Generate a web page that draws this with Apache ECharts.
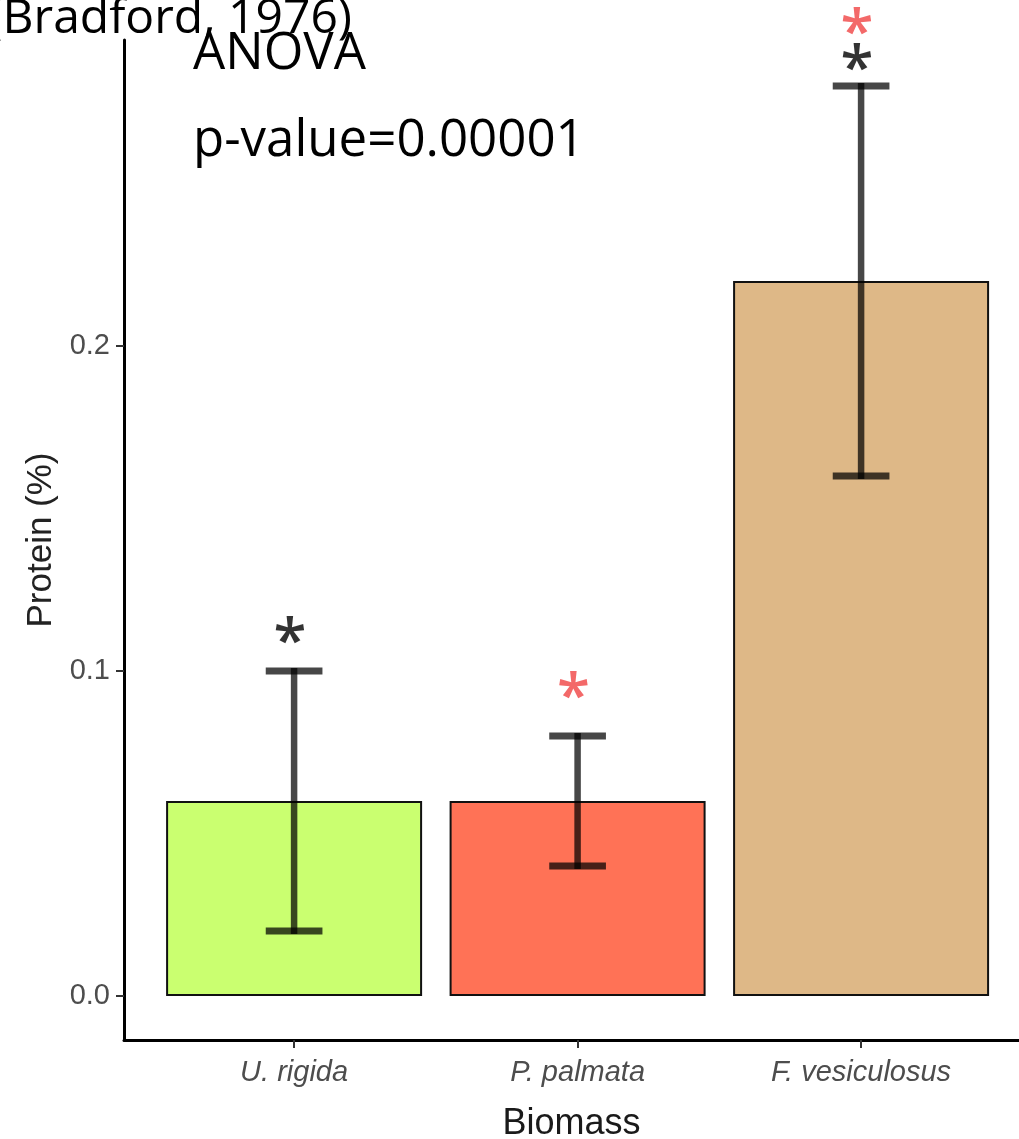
<!DOCTYPE html>
<html>
<head>
<meta charset="utf-8">
<script src="https://cdn.jsdelivr.net/npm/echarts@6/dist/echarts.min.js"></script>
<style>
html,body{margin:0;padding:0;background:#fff;overflow:hidden;}
#c{width:1019px;height:1139px;}
</style>
</head>
<body>
<div id="c"></div>
<script>
// ---- data ----
const categories = ['U. rigida', 'P. palmata', 'F. vesiculosus'];
const meanValues = [0.06, 0.06, 0.22];
const lowValues = [0.02, 0.04, 0.16];
const highValues = [0.10, 0.08, 0.28];
const barColors = ['#CAFF70', '#FF7256', '#DEB887'];
const yTicks = [0, 0.1, 0.2];
// significance marks: category index (1-based), y position, colour
const starX = [1, 2, 3, 3];
const starY = [0.1117, 0.0948, 0.288, 0.299];
const starColors = ['#000000', '#F04444', '#000000', '#F04444'];
const annoTitle = 'ANOVA';
const annoP = 'p-value=0.00001';
const annoRef = '(Bradford, 1976)';

const xPos = categories.map((c, i) => i + 1);

const chart = echarts.init(document.getElementById('c'), null, {renderer: 'canvas'});

const option = {
  animation: false,
  backgroundColor: '#ffffff',
  grid: {left: 124, right: 0, top: 40, bottom: 99, containLabel: false, outerBoundsMode: 'none'},
  xAxis: {
    type: 'value',
    min: 0.4,
    max: 3.557,
    splitLine: {show: false},
    axisLine: {show: true, onZero: false, lineStyle: {color: '#000', width: 3}},
    axisTick: {show: true, customValues: xPos, length: 8, lineStyle: {color: '#333', width: 2}},
    axisLabel: {
      show: true, customValues: xPos, margin: 18,
      formatter: v => categories[Math.round(v) - 1] || '',
      fontFamily: 'Liberation Sans, Arial, sans-serif', fontStyle: 'italic',
      fontSize: 29, color: '#4d4d4d'
    },
    name: 'Biomass', nameLocation: 'middle', nameGap: 66,
    nameTextStyle: {fontFamily: 'Liberation Sans, Arial, sans-serif', fontSize: 36, color: '#1a1a1a'}
  },
  yAxis: {
    type: 'value',
    min: -0.01354,
    max: 0.29415,
    splitLine: {show: false},
    axisLine: {show: true, onZero: false, lineStyle: {color: '#000', width: 3}},
    axisTick: {show: true, customValues: yTicks, length: 8, lineStyle: {color: '#333', width: 2}},
    axisLabel: {
      show: true, customValues: yTicks, margin: 14,
      formatter: v => v.toFixed(1),
      fontFamily: 'Liberation Sans, Arial, sans-serif', fontSize: 29, color: '#4d4d4d'
    },
    name: 'Protein (%)', nameLocation: 'middle', nameGap: 62, nameRotate: 90,
    nameTextStyle: {fontFamily: 'Liberation Sans, Arial, sans-serif', fontSize: 35, color: '#222'}
  },
  series: [
    {
      type: 'bar',
      barWidth: 256,
      data: xPos.map((x, i) => ({
        value: [x, meanValues[i]],
        itemStyle: {color: barColors[i], borderColor: '#111', borderWidth: 2}
      })),
      z: 2
    },
    {
      type: 'custom',
      z: 5,
      data: xPos.map((x, i) => [x, lowValues[i], highValues[i]]),
      renderItem: function (params, api) {
        const x = api.value(0), lo = api.value(1), hi = api.value(2);
        const pLo = api.coord([x, lo]);
        const pHi = api.coord([x, hi]);
        const capL = api.coord([x - 0.1, hi]);
        const capR = api.coord([x + 0.1, hi]);
        const hw = (capR[0] - capL[0]) / 2;
        const style = {stroke: 'rgba(0,0,0,0.72)', lineWidth: 6.5, fill: null};
        return {
          type: 'group',
          children: [
            {type: 'line', shape: {x1: pHi[0], y1: pHi[1] - 3, x2: pHi[0], y2: pLo[1] + 3}, style: style},
            {type: 'line', shape: {x1: pHi[0] - hw, y1: pHi[1], x2: pHi[0] + hw, y2: pHi[1]}, style: {stroke: 'rgba(0,0,0,0.72)', lineWidth: 7}},
            {type: 'line', shape: {x1: pLo[0] - hw, y1: pLo[1], x2: pLo[0] + hw, y2: pLo[1]}, style: {stroke: 'rgba(0,0,0,0.72)', lineWidth: 7}}
          ]
        };
      }
    },
    {
      type: 'scatter',
      z: 6,
      clip: false,
      symbolSize: 0,
      silent: true,
      data: starX.map((x, i) => ({
        value: [x - 0.015, starY[i]],
        label: {color: starColors[i]}
      })),
      label: {
        show: true, position: 'inside', formatter: '*',
        fontFamily: 'Open Sans', fontSize: 60, fontWeight: 600, offset: [0, 11]
      }
    }
  ],
  graphic: [
    {type: 'text', left: 193, top: 29, style: {text: annoTitle, font: '51px "Open Sans"', fill: '#000'}},
    {type: 'text', left: 193, top: 116, style: {text: annoP, font: '51px "Open Sans"', fill: '#000'}},
    {type: 'text', right: 1019 - 352, top: -5, style: {text: annoRef, font: '48px "Open Sans"', fill: '#000'}}
  ]
};
chart.setOption(option);
</script>
</body>
</html>
